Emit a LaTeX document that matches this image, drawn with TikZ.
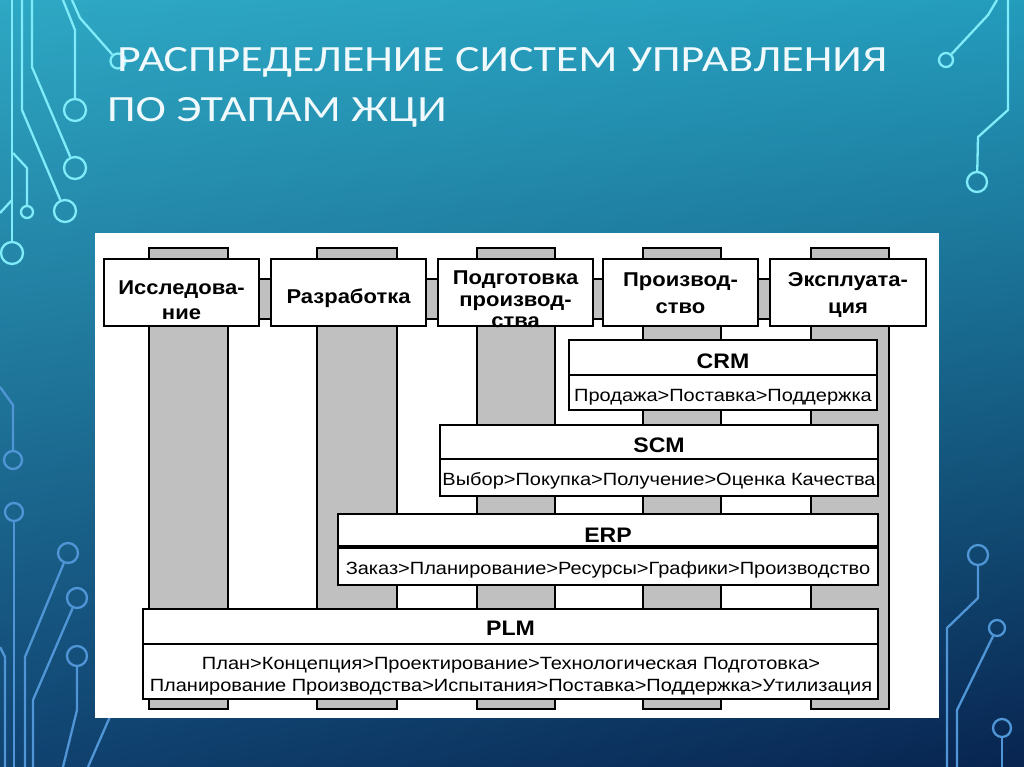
\documentclass[tikz,border=0pt]{standalone}
\usepackage{fontspec}
\usetikzlibrary{shadings}
\setmainfont{Liberation Sans}
\newfontfamily\titlefont[FakeStretch=1.24]{Carlito}
\newfontfamily\hdrfont[FakeStretch=1.1]{Liberation Sans}
\newfontfamily\subfont[FakeStretch=1.13]{Liberation Sans}
\definecolor{bgTL}{RGB}{46,168,196}
\definecolor{bgTR}{RGB}{36,156,188}
\definecolor{bgBL}{RGB}{16,66,112}
\definecolor{bgBR}{RGB}{8,36,80}
\definecolor{circTop}{RGB}{128,236,250}
\definecolor{circBot}{RGB}{80,150,214}
\definecolor{barGray}{RGB}{192,192,192}
\definecolor{titleCol}{RGB}{240,250,252}
\begin{document}
\begin{tikzpicture}[x=1pt,y=-1pt,
  title/.style={font=\titlefont\fontsize{37}{44}\selectfont, text=titleCol, inner sep=0pt},
  wire/.style={line width=2.3pt, line join=round},
  pad/.style={circle, draw, line width=2.3pt, inner sep=0pt},
  bar/.style={draw=black, fill=barGray, line width=1.3pt},
  box/.style={draw=black, fill=white, line width=1.8pt, inner sep=0pt},
  hdr/.style={font=\hdrfont\bfseries\fontsize{20}{24}\selectfont, inner sep=0pt},
  sysT/.style={font=\hdrfont\bfseries\fontsize{21}{25}\selectfont, inner sep=0pt},
  sysS/.style={font=\subfont\fontsize{17.7}{22}\selectfont, inner sep=0pt}]
\useasboundingbox (0,0) rectangle (1024,767);
\shade[upper left=bgTL, upper right=bgTR, lower left=bgBL, lower right=bgBR] (0,0) rectangle (1024,767);

% ---- circuit decoration, top (bright)
\begin{scope}[every node/.style={pad, draw=circTop}, circTop]
\node (k1) at (12,253) [minimum size=22pt] {};
\node (k2) at (27,212) [minimum size=12pt] {};
\node (k4) at (65,211) [minimum size=22pt] {};
\node (k5) at (75,168) [minimum size=22pt] {};
\node (k6) at (75,110) [minimum size=22pt] {};
\node (k7) at (118,61) [minimum size=15pt] {};
\node (k8) at (946,60) [minimum size=14pt] {};
\node (k9) at (977,182) [minimum size=20pt] {};
\coordinate (e1) at (12,0);
\coordinate (e3) at (0,213);
\coordinate (e4) at (22,0);
\coordinate (e5) at (32,0);
\coordinate (e6) at (63,0);
\coordinate (e7) at (72,0);
\coordinate (e8) at (997,0);
\coordinate (e9) at (1008,0);
\draw[wire] (e1) -- (k1);
\draw[wire] (13,153) -- (27,168) -- (k2);
\draw[wire] (12,200) -- (e3);
\draw[wire] (e4) -- (22,110) -- (k4);
\draw[wire] (e5) -- (32,67) -- (k5);
\draw[wire] (e6) -- (75,30) -- (k6);
\draw[wire] (e7) -- (80,18) -- (k7);
\draw[wire] (e8) -- (988,15) -- (k8);
\draw[wire] (e9) -- (1008,110) -- (978,137) -- (k9);
\end{scope}

% ---- circuit decoration, bottom (blue)
\begin{scope}[every node/.style={pad, draw=circBot}, circBot]
\node (k10) at (13,460) [minimum size=18pt] {};
\node (k11) at (14,512) [minimum size=18pt] {};
\node (k12) at (68,553) [minimum size=20pt] {};
\node (k13) at (77,598) [minimum size=20pt] {};
\node (k14) at (77,656) [minimum size=20pt] {};
\node (k17) at (978,555) [minimum size=20pt] {};
\node (k18) at (997,628) [minimum size=16pt] {};
\node (k19) at (1002,728) [minimum size=18pt] {};
\coordinate (f10) at (0,387);
\coordinate (f11) at (14,767);
\coordinate (f12) at (25,767);
\coordinate (f13) at (33,767);
\coordinate (f14) at (63,767);
\coordinate (f15) at (0,647);
\coordinate (f15b) at (5,767);
\coordinate (f16) at (112,712);
\coordinate (f16b) at (88,767);
\coordinate (f17) at (947,767);
\coordinate (f18) at (957,767);
\coordinate (f19) at (1002,767);
\draw[wire] (f10) -- (13,405) -- (k10);
\draw[wire] (k11) -- (f11);
\draw[wire] (k12) -- (25,657) -- (f12);
\draw[wire] (k13) -- (33,700) -- (f13);
\draw[wire] (k14) -- (77,710) -- (f14);
\draw[wire] (f15) -- (5,657) -- (f15b);
\draw[wire] (f16) -- (f16b);
\draw[wire] (k17) -- (978,598) -- (947,628) -- (f17);
\draw[wire] (k18) -- (957,710) -- (f18);
\draw[wire] (k19) -- (f19);
\end{scope}

% ---- title
\node[title, anchor=base west] (t1) at (117,72) {РАСПРЕДЕЛЕНИЕ СИСТЕМ УПРАВЛЕНИЯ};
\node[title, anchor=base west] (t2) at (107,122) {ПО ЭТАПАМ ЖЦИ};

% ---- white panel
\fill[white] (95,233) rectangle (939,718);

% ---- stage columns
\draw[bar] (149,248) rectangle (228,709);
\draw[bar] (317,248) rectangle (397,709);
\draw[bar] (477,248) rectangle (555,709);
\draw[bar] (643,248) rectangle (721,709);
\draw[bar] (811,248) rectangle (889,709);
\draw[bar] (104,279) rectangle (926,319);

% ---- stage headers
\node[box, minimum width=155pt, minimum height=67pt] (h1) at (181.5,292.5) {};
\node[box, minimum width=155pt, minimum height=67pt] (h2) at (348.5,292.5) {};
\node[box, minimum width=155pt, minimum height=67pt] (h3) at (515.5,292.5) {};
\node[box, minimum width=155pt, minimum height=67pt] (h4) at (680.5,292.5) {};
\node[box, minimum width=156pt, minimum height=67pt] (h5) at (848,292.5) {};
\node[hdr, anchor=base] (h1a) at (181.5,294) {Исследова-};
\node[hdr, anchor=base] (h1b) at (181.5,319) {ние};
\node[hdr, anchor=base] (h2a) at (348.5,303) {Разработка};
\node[hdr, anchor=base] (h3a) at (515.5,284) {Подготовка};
\node[hdr, anchor=base] (h3b) at (515.5,306) {производ-};
\node[hdr, anchor=base] (h3c) at (515.5,327) {ства};
\node[hdr, anchor=base] (h4a) at (680.5,286) {Производ-};
\node[hdr, anchor=base] (h4b) at (680.5,313) {ство};
\node[hdr, anchor=base] (h5a) at (848,286) {Эксплуата-};
\node[hdr, anchor=base] (h5b) at (848,313) {ция};

% ---- CRM
\node[box, minimum width=308pt, minimum height=35pt] (crm) at (723,357.5) {};
\node[box, minimum width=308pt, minimum height=35pt] (crms) at (723,392.5) {};
\node[sysT, anchor=base] (crmt) at (723,368) {CRM};
\node[sysS, anchor=base] (crmx) at (723,401) {Продажа>Поставка>Поддержка};

% ---- SCM
\node[box, minimum width=438pt, minimum height=34pt] (scm) at (659,442) {};
\node[box, minimum width=438pt, minimum height=37pt] (scms) at (659,477.5) {};
\node[sysT, anchor=base] (scmt) at (659,452) {SCM};
\node[sysS, anchor=base] (scmx) at (659,485) {Выбор>Покупка>Получение>Оценка Качества};

% ---- ERP
\node[box, minimum width=540pt, minimum height=34pt] (erp) at (608,531) {};
\node[box, minimum width=540pt, minimum height=37pt] (erps) at (608,566.5) {};
\draw[line width=3.5pt] (erps.north west) -- (erps.north east);
\node[sysT, anchor=base] (erpt) at (608,542) {ERP};
\node[sysS, anchor=base] (erpx) at (608,574) {Заказ>Планирование>Ресурсы>Графики>Производство};

% ---- PLM
\node[box, minimum width=735pt, minimum height=35pt] (plm) at (510.5,626.5) {};
\node[box, minimum width=735pt, minimum height=55pt] (plms) at (510.5,671.5) {};
\node[sysT, anchor=base] (plmt) at (510.5,635) {PLM};
\node[sysS, anchor=base] (plmx) at (511,669) {План>Концепция>Проектирование>Технологическая Подготовка>};
\node[sysS, anchor=base] (plmy) at (511,691) {Планирование Производства>Испытания>Поставка>Поддержка>Утилизация};
\end{tikzpicture}
\end{document}
